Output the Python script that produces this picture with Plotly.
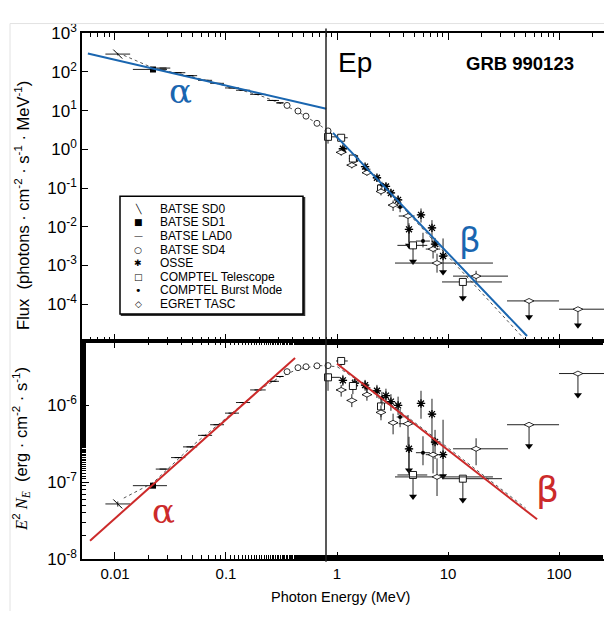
import math
import plotly.graph_objects as go

W, H = 604, 621
MEV_TO_ERG = 1.602e-6
FONT = "Liberation Sans, Arial, sans-serif"

# ---------------- data (E in MeV, Y = E^2 N_E in erg cm^-2 s^-1) ----------------
SD0_E = [0.0106]
SD0_ELO = [0.0082]
SD0_EHI = [0.0137]
SD0_Y = [5.2e-8]
SD0_YLO = [4.8e-8]
SD0_YHI = [5.6e-8]

SD1_E = [0.022]
SD1_ELO = [0.0145]
SD1_EHI = [0.0294]
SD1_Y = [9.0e-8]

LAD_E = [0.0271, 0.0370, 0.0474, 0.0647, 0.0830, 0.1133, 0.1422, 0.194, 0.265, 0.306]
LAD_ELO = [0.0233, 0.0320, 0.0410, 0.0560, 0.0720, 0.0980, 0.1230, 0.165, 0.235, 0.285]
LAD_EHI = [0.0315, 0.0430, 0.0550, 0.0750, 0.0960, 0.1310, 0.1650, 0.228, 0.300, 0.330]
LAD_Y = [1.48e-7, 2.09e-7, 2.88e-7, 4.07e-7, 5.60e-7, 7.93e-7, 1.09e-6, 1.59e-6, 2.06e-6, 2.38e-6]

SD4_E = [0.355, 0.445, 0.526, 0.660, 0.830]
SD4_ELO = [0.335, 0.420, 0.500, 0.625, 0.780]
SD4_EHI = [0.375, 0.470, 0.555, 0.700, 0.880]
SD4_Y = [2.75e-6, 3.10e-6, 3.19e-6, 3.28e-6, 3.30e-6]

OSSE_E = [1.13, 1.45, 1.79, 2.29, 2.76, 3.06, 3.55, 4.45, 5.71, 7.17, 7.64, 9.02]
OSSE_ELO = [1.05, 1.35, 1.66, 2.12, 2.56, 2.84, 3.30, 4.15, 5.30, 6.65, 7.10, 8.40]
OSSE_EHI = [1.22, 1.56, 1.93, 2.47, 2.98, 3.30, 3.83, 4.80, 6.15, 7.75, 8.20, 9.70]
OSSE_Y = [2.12e-6, 1.95e-6, 1.84e-6, 1.55e-6, 1.34e-6, 1.12e-6, 1.00e-6, 2.72e-7, 1.06e-6, 7.70e-7, 3.33e-7, 2.28e-7]
OSSE_YLO = [1.80e-6, 1.65e-6, 1.55e-6, 1.25e-6, 1.05e-6, 8.5e-7, 7.5e-7, 1.24e-7, 6.7e-7, 3.2e-7, 2.0e-7, 2.28e-7]
OSSE_YHI = [2.50e-6, 2.25e-6, 2.15e-6, 1.85e-6, 1.65e-6, 1.40e-6, 1.30e-6, 3.9e-7, 1.55e-6, 1.22e-6, 4.8e-7, 6.5e-7]
OSSE_UL = [False, False, False, False, False, False, False, True, False, False, False, True]

CTEL_E = [0.830, 1.09, 1.39, 2.49, 4.84, 13.6]
CTEL_ELO = [0.78, 0.98, 1.28, 2.30, 3.50, 8.83]
CTEL_EHI = [1.06, 1.25, 1.52, 2.70, 6.50, 30.6]
CTEL_Y = [2.32e-6, 3.79e-6, 1.79e-6, 9.7e-7, 1.24e-7, 1.11e-7]
CTEL_YLO = [1.55e-6, 3.28e-6, 1.40e-6, 7.0e-7, 1.24e-7, 1.11e-7]
CTEL_YHI = [2.60e-6, 4.10e-6, 2.20e-6, 1.25e-6, 1.24e-7, 1.11e-7]
CTEL_UL = [False, False, False, False, True, True]

CBM_E = [1.86, 2.54, 3.70, 5.95]
CBM_ELO = [1.72, 2.35, 3.45, 5.14]
CBM_EHI = [2.00, 2.75, 3.97, 6.87]
CBM_Y = [1.70e-6, 1.25e-6, 7.06e-7, 2.42e-7]
CBM_YLO = [1.45e-6, 1.00e-6, 5.2e-7, 1.66e-7]
CBM_YHI = [1.95e-6, 1.50e-6, 9.0e-7, 3.96e-7]

EG_E = [1.09, 1.36, 1.86, 2.49, 3.20, 4.36, 7.33, 7.96, 17.9, 53.7, 148.0]
EG_ELO = [0.98, 1.22, 1.68, 2.25, 2.90, 3.60, 6.30, 3.33, 11.1, 34.0, 100.0]
EG_EHI = [1.22, 1.52, 2.06, 2.75, 3.55, 5.00, 8.50, 25.4, 34.7, 100.0, 320.0]
EG_Y = [1.59e-6, 1.16e-6, 1.38e-6, 8.1e-7, 5.94e-7, 5.77e-7, 2.28e-7, 1.17e-7, 2.72e-7, 5.60e-7, 2.60e-6]
EG_YLO = [1.30e-6, 0.95e-6, 1.15e-6, 6.4e-7, 4.2e-7, 3.0e-7, 1.3e-7, 6.6e-8, 1.66e-7, 5.60e-7, 2.60e-6]
EG_YHI = [1.85e-6, 1.40e-6, 1.60e-6, 1.0e-6, 7.8e-7, 7.5e-7, 3.8e-7, 2.04e-7, 3.73e-7, 5.60e-7, 2.60e-6]
EG_UL = [False, False, False, False, False, False, False, False, False, True, True]

# Band-function fit (dotted)
BAND_E = [0.012, 0.022, 0.05, 0.1, 0.2, 0.3, 0.45, 0.7, 1.0, 2.0, 5.0, 10.0, 50.0]
BAND_Y = [6.2e-8, 9.8e-8, 3.0e-7, 6.8e-7, 1.6e-6, 2.3e-6, 3.0e-6, 3.3e-6, 3.2e-6, 1.65e-6, 6.0e-7, 2.8e-7, 4.6e-8]

# hand-drawn power laws
BLUE_A_E = [0.0057, 0.80]
BLUE_A_F = [300.0, 11.2]
BLUE_B_E = [0.92, 51.5]
BLUE_B_F = [2.66, 1.5e-5]
RED_A_E = [0.00596, 0.419]
RED_A_Y = [1.73e-8, 4.13e-6]
RED_B_E = [1.0, 63.4]
RED_B_Y = [3.48e-6, 3.28e-8]

EP = 0.796

X_TICKS = [0.01, 0.1, 1, 10, 100]
X_TICKTEXT = ["0.01", "0.1", "1", "10", "100"]
TOP_Y_EXP = [3, 2, 1, 0, -1, -2, -3, -4]
BOT_Y_EXP = [-8, -7, -6]

LEGEND_LABELS = ["BATSE SD0", "BATSE SD1", "BATSE LAD0", "BATSE SD4", "OSSE",
                 "COMPTEL Telescope", "COMPTEL Burst Mode", "EGRET TASC"]
LEGEND_GLYPHS = ["╲", "■", "—", "○", "✱", "□", "•", "◇"]

# ---------------- figure ----------------
fig = go.Figure()
ERRC = "#222222"


def to_flux(E, vals):
    return [v / (e * e * MEV_TO_ERG) for e, v in zip(E, vals)]


def add_set(E, Elo, Ehi, Y, Ylo=None, Yhi=None, UL=None, marker=None):
    if UL is None:
        UL = [False] * len(E)
    for panel in ("top", "bot"):
        if panel == "top":
            conv = lambda arr: to_flux(E, arr)
            xa, ya, fac = "x", "y", 2.6
        else:
            conv = lambda arr: list(arr)
            xa, ya, fac = "x2", "y2", 1.9
        yv = conv(Y)
        ex = dict(type="data", symmetric=False,
                  array=[h - e for h, e in zip(Ehi, E)],
                  arrayminus=[e - l for e, l in zip(E, Elo)],
                  color=ERRC, thickness=1, width=0)
        ey = None
        if Ylo is not None:
            ylo = conv(Ylo)
            yhi = conv(Yhi)
            ey = dict(type="data", symmetric=False,
                      array=[h - v for h, v in zip(yhi, yv)],
                      arrayminus=[v - l for v, l in zip(yv, ylo)],
                      color=ERRC, thickness=1, width=0)
        ax_, ay_, tx, ty = [], [], [], []
        for e, v, u in zip(E, yv, UL):
            if u:
                ax_ += [e, e, None]
                ay_ += [v, v / fac, None]
                tx.append(e)
                ty.append(v / fac)
        if ax_:
            fig.add_trace(go.Scatter(x=ax_, y=ay_, mode="lines", xaxis=xa, yaxis=ya,
                                     line=dict(color=ERRC, width=1), showlegend=False,
                                     hoverinfo="skip"))
            fig.add_trace(go.Scatter(x=tx, y=ty, mode="markers", xaxis=xa, yaxis=ya,
                                     marker=dict(symbol="triangle-down", size=7, color="black"),
                                     showlegend=False, hoverinfo="skip"))
        fig.add_trace(go.Scatter(x=E, y=yv, mode="markers", xaxis=xa, yaxis=ya,
                                 error_x=ex, error_y=ey, marker=marker, showlegend=False))


fig.add_trace(go.Scatter(x=BAND_E, y=to_flux(BAND_E, BAND_Y), mode="lines", xaxis="x", yaxis="y",
                         line=dict(color="#555", width=1, dash="dot"), showlegend=False))
fig.add_trace(go.Scatter(x=BAND_E, y=BAND_Y, mode="lines", xaxis="x2", yaxis="y2",
                         line=dict(color="#555", width=1, dash="dot"), showlegend=False))

add_set(SD0_E, SD0_ELO, SD0_EHI, SD0_Y, SD0_YLO, SD0_YHI,
        marker=dict(symbol="line-nw", size=9, color="black", line=dict(color="black", width=1)))
add_set(SD1_E, SD1_ELO, SD1_EHI, SD1_Y,
        marker=dict(symbol="square", size=6, color="black"))
add_set(LAD_E, LAD_ELO, LAD_EHI, LAD_Y,
        marker=dict(symbol="line-ew", size=5, color="black", line=dict(color="black", width=1)))
add_set(SD4_E, SD4_ELO, SD4_EHI, SD4_Y,
        marker=dict(symbol="circle", size=6, color="white", line=dict(color="black", width=0.8)))
add_set(OSSE_E, OSSE_ELO, OSSE_EHI, OSSE_Y, OSSE_YLO, OSSE_YHI, OSSE_UL,
        marker=dict(symbol="asterisk-open", size=7, color="black", line=dict(color="black", width=1.3)))
add_set(CTEL_E, CTEL_ELO, CTEL_EHI, CTEL_Y, CTEL_YLO, CTEL_YHI, CTEL_UL,
        marker=dict(symbol="square", size=7, color="white", line=dict(color="black", width=0.9)))
add_set(CBM_E, CBM_ELO, CBM_EHI, CBM_Y, CBM_YLO, CBM_YHI,
        marker=dict(symbol="circle", size=4, color="black"))
add_set(EG_E, EG_ELO, EG_EHI, EG_Y, EG_YLO, EG_YHI, EG_UL,
        marker=dict(symbol="diamond-wide", size=7, color="white", line=dict(color="black", width=0.8)))

BLUE = "#1a66b0"
RED = "#cc2a2a"
fig.add_trace(go.Scatter(x=BLUE_A_E, y=BLUE_A_F, mode="lines", xaxis="x", yaxis="y",
                         line=dict(color=BLUE, width=2), showlegend=False))
fig.add_trace(go.Scatter(x=BLUE_B_E, y=BLUE_B_F, mode="lines", xaxis="x", yaxis="y",
                         line=dict(color=BLUE, width=2), showlegend=False))
fig.add_trace(go.Scatter(x=RED_A_E, y=RED_A_Y, mode="lines", xaxis="x2", yaxis="y2",
                         line=dict(color=RED, width=2), showlegend=False))
fig.add_trace(go.Scatter(x=RED_B_E, y=RED_B_Y, mode="lines", xaxis="x2", yaxis="y2",
                         line=dict(color=RED, width=2), showlegend=False))

# ---------------- axes ----------------
x_left = 82
top_t, mid, bot_b = 22, 341, 567
xdom = [x_left / W, 1.0]
top_dom = [1 - mid / H, 1 - top_t / H]
bot_dom = [1 - bot_b / H, 1 - mid / H]
xrange = [-2.297, 2.405]

common_x = dict(type="log", range=xrange, domain=xdom, showline=True, linecolor="black",
                linewidth=1.5, ticks="inside", ticklen=7, tickwidth=1, tickcolor="black",
                mirror="ticks", dtick=1, showgrid=False, zeroline=False,
                minor=dict(ticks="inside", ticklen=4, tickcolor="black", showgrid=False),
                tickfont=dict(family=FONT, size=15, color="black"))

fig.update_layout(
    width=W, height=H, margin=dict(l=0, r=0, t=0, b=0),
    paper_bgcolor="white", plot_bgcolor="white", showlegend=False,
    font=dict(family=FONT, color="black"),
    xaxis=dict(common_x, anchor="y", showticklabels=False),
    xaxis2=dict(common_x, anchor="y2", tickvals=X_TICKS, ticktext=X_TICKTEXT, dtick=None),
    yaxis=dict(type="log", range=[-4.95, 3.0], domain=top_dom, anchor="x",
               showline=True, linecolor="black", linewidth=1.5, ticks="inside", ticklen=6,
               tickcolor="black", showgrid=False, zeroline=False,
               tickvals=[10.0 ** p for p in TOP_Y_EXP],
               ticktext=["10<sup>%d</sup>" % p for p in TOP_Y_EXP],
               tickfont=dict(family=FONT, size=17, color="black")),
    yaxis2=dict(type="log", range=[-8.0, -5.16], domain=bot_dom, anchor="x2",
                showline=True, linecolor="black", linewidth=1.5, ticks="inside", ticklen=7,
                tickcolor="black", showgrid=False, zeroline=False, dtick=1,
                tickvals=[10.0 ** p for p in BOT_Y_EXP],
                ticktext=["10<sup>%d</sup>" % p for p in BOT_Y_EXP],
                minor=dict(ticks="inside", ticklen=4, tickcolor="black", showgrid=False),
                tickfont=dict(family=FONT, size=17, color="black")),
)

shapes = []
shapes.append(dict(type="line", xref="paper", yref="paper", x0=10 / W, x1=1, y0=1 - 12 / H, y1=1 - 12 / H,
                   line=dict(color="#e2e2e2", width=1)))
shapes.append(dict(type="line", xref="paper", yref="paper", x0=10 / W, x1=10 / W, y0=0, y1=1 - 12 / H,
                   line=dict(color="#e2e2e2", width=1)))
shapes.append(dict(type="line", xref="x", yref="paper", x0=EP, x1=EP, y0=1 - 570 / H, y1=1 - 17 / H,
                   line=dict(color="#222", width=1.5)))
# legend box (with slight shadow on right/bottom)
shapes.append(dict(type="rect", xref="paper", yref="paper", x0=121.5 / W, x1=304.5 / W,
                   y0=1 - 314.5 / H, y1=1 - 192.5 / H, line=dict(color="#333", width=1.5),
                   fillcolor="#333", layer="above"))
shapes.append(dict(type="rect", xref="paper", yref="paper", x0=120 / W, x1=303 / W,
                   y0=1 - 313 / H, y1=1 - 191 / H, line=dict(color="black", width=1.5),
                   fillcolor="white", layer="above"))
fig.update_layout(shapes=shapes)

ann = []


def text(px, py, s, size, color="black", family=FONT, xanchor="center", textangle=0, pad=1):
    ann.append(dict(x=px / W, y=1 - py / H, xref="paper", yref="paper", text=s, showarrow=False,
                    xanchor=xanchor, yanchor="middle", textangle=textangle, borderpad=pad,
                    font=dict(family=family, size=size, color=color)))


for i, (g, lab) in enumerate(zip(LEGEND_GLYPHS, LEGEND_LABELS)):
    yy = 204 + 14.1 * i
    text(138, yy, g, 9 if g != "•" else 11, family="DejaVu Sans", pad=0)
    text(159, yy, lab, 12, xanchor="left", pad=0)

text(355, 52, "Ep", 28)
text(520, 53, "<b>GRB 990123</b>", 18.5)
text(340, 607, "Photon Energy (MeV)", 14.5)
text(22, 201, "Flux  (photons · cm<sup>-2</sup> · s<sup>-1</sup> · MeV<sup>-1</sup>)", 16.5, textangle=-90)
text(21, 453, "<i><span style='font-family:Liberation Serif'>E</span></i><sup>2</sup>"
              "<i><span style='font-family:Liberation Serif'> N<sub>E</sub></span></i>"
              "  (erg · cm<sup>-2</sup> · s<sup>-1</sup>)", 16.5, textangle=-90)
text(180, 82, "α", 34, color=BLUE, family="DejaVu Serif")
text(470, 236, "β", 34, color=BLUE, family="DejaVu Sans")
text(163, 517, "α", 34, color=RED, family="DejaVu Serif")
text(547, 495, "β", 36, color=RED, family="DejaVu Sans")
fig.update_layout(annotations=ann)

fig.write_html("out.html")
